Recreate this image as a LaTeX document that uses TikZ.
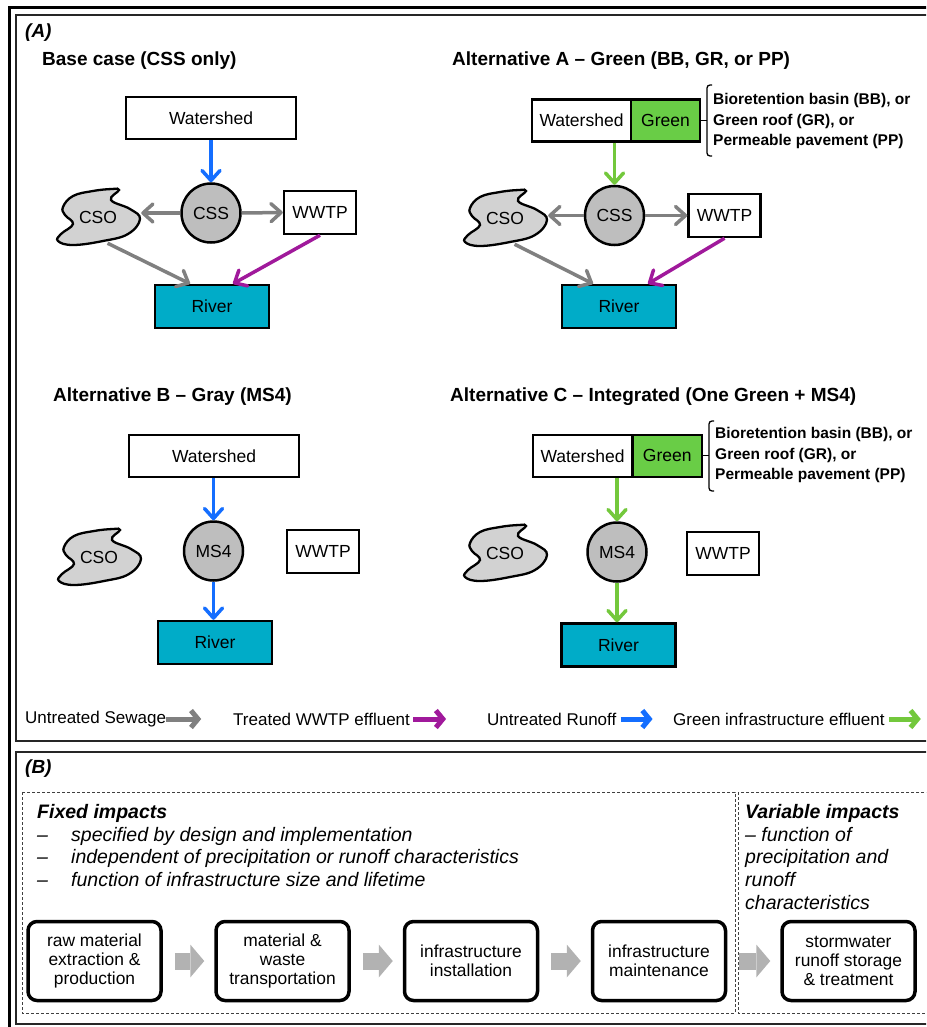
\documentclass[tikz,border=0pt]{standalone}
\usepackage{fontspec}
\setmainfont{Liberation Sans}
\usetikzlibrary{arrows.meta}

\definecolor{sewgray}{RGB}{128,128,128}
\definecolor{effpurple}{RGB}{160,25,155}
\definecolor{runblue}{RGB}{20,110,255}
\definecolor{gieffgreen}{RGB}{115,200,60}
\definecolor{greenfill}{RGB}{105,205,70}
\definecolor{riverfill}{RGB}{0,172,200}
\definecolor{sysfill}{RGB}{190,190,190}
\definecolor{csofill}{RGB}{210,210,210}
\definecolor{blockgray}{RGB}{178,178,178}

\newcommand{\lblfont}{\fontsize{17.5}{21}\selectfont}
\newcommand{\ttlfont}{\bfseries\fontsize{19}{23}\selectfont}
\newcommand{\brcfont}{\bfseries\fontsize{15.5}{20.7}\selectfont}
\newcommand{\legfont}{\fontsize{17}{20}\selectfont}
\newcommand{\impfont}{\itshape\fontsize{19.5}{22.7}\selectfont}
\newcommand{\stgfont}{\fontsize{17.4}{18.6}\selectfont}
\newcommand{\dashitem}{\makebox[34pt][l]{–}}

% the CSO outline, drawn round a centre point
\newcommand{\csoblob}[1]{%
  \draw[blob, shift={(#1)}] plot[smooth cycle, tension=0.7] coordinates
    {(-35,-10) (-25,-21) (-5,-26) (14,-28) (21,-27) (13,-17) (32,-8)
     (42,2) (30,17) (5,24) (-25,28) (-40,24) (-37,17) (-25,7) (-33,-2)};}

\tikzset{
  box/.style={draw, line width=2.5pt, inner sep=0pt, font=\lblfont},
  wsbox/.style={box, minimum width=170pt, minimum height=42pt},
  halfws/.style={box, minimum width=99pt, minimum height=42pt},
  greenbox/.style={box, fill=greenfill, minimum width=69pt, minimum height=42pt},
  plantbox/.style={box, minimum width=72pt, minimum height=43pt},
  riverbox/.style={box, fill=riverfill, minimum width=114pt, minimum height=43pt},
  sysnode/.style={circle, draw, line width=2.5pt, fill=sysfill, minimum size=59pt, inner sep=0pt, font=\lblfont},
  csonode/.style={inner sep=0pt, minimum width=86pt, minimum height=52pt, font=\lblfont},
  blob/.style={draw, line width=2.3pt, fill=csofill},
  flow/.style={line width=3.5pt, -{Straight Barb[length=10pt,width=18pt,round]}},
  sewage/.style={flow, draw=sewgray},
  effluent/.style={flow, draw=effpurple},
  runoff/.style={flow, draw=runblue},
  gieff/.style={flow, draw=gieffgreen},
  ttl/.style={anchor=west, font=\ttlfont, inner sep=0pt},
  brctxt/.style={anchor=west, align=left, font=\brcfont, inner sep=0pt},
  bracket/.style={line width=1.3pt, rounded corners=3pt},
  legtxt/.style={anchor=west, font=\legfont, inner sep=0pt},
  legarr/.style={line width=5pt, -{Straight Barb[length=7pt,width=17pt]}},
  stage/.style={draw, line width=3.5pt, rounded corners=9pt, minimum width=133pt, minimum height=79pt,
    align=center, font=\stgfont, inner sep=0pt},
  blockarr/.style={draw=blockgray, line width=17pt, -{Triangle[length=14pt,width=33pt,line width=0pt]}},
  impbox/.style={draw=black!75, line width=1pt, dash pattern=on 3pt off 2pt},
}

\begin{document}
\begin{tikzpicture}[x=1pt, y=-1pt]
    \useasboundingbox (0,0) rectangle (926,1027);
    \clip (0,0) rectangle (926,1027);

    % frames
    \draw[line width=3pt] (9,1040) -- (9,7.5) -- (940,7.5);
    \draw[line width=1.5pt, draw=black!85] (16,15) rectangle (940,741);
    \draw[line width=1.5pt, draw=black!85] (16,752) rectangle (940,1024);

    % (A)
    \node[anchor=west, font=\bfseries\itshape\fontsize{19}{23}\selectfont, inner sep=0pt] (labA) at (25,33) {(A)};

    % base case
    \node[ttl] (ttlBase) at (42,61) {Base case (CSS only)};
    \node[wsbox] (wsBase) at (211,118) {Watershed};
    \node[sysnode] (cssBase) at (211,213) {CSS};
    \csoblob{98,217}
    \node[csonode] (csoBase) at (98,217) {CSO};
    \node[plantbox] (wwtpBase) at (320,212.5) {WWTP};
    \node[riverbox] (riverBase) at (212,306.5) {River};
    \draw[runoff] (wsBase) -- (cssBase);
    \draw[sewage] (cssBase.west) -- (cssBase.west -| csoBase.east);
    \draw[sewage] (cssBase.east) -- (wwtpBase.west);
    \draw[sewage] (csoBase.-70) -- ([xshift=-22pt]riverBase.north);
    \draw[effluent] (wwtpBase.south) -- ([xshift=21pt]riverBase.north);

    % alternative A
    \node[ttl] (ttlA) at (452,61) {Alternative A – Green (BB, GR, or PP)};
    \node[halfws] (wsA) at (581.5,120.5) {Watershed};
    \node[greenbox] (grA) at (665.5,120.5) {Green};
    \draw[bracket] (712,85) -| (707,156) -- (712,156);
    \draw[bracket] (grA.east) -- (707,120.5);
    \node[brctxt] (giA) at (713,121) {Bioretention basin (BB), or\\Green roof (GR), or\\Permeable pavement (PP)};
    \node[sysnode] (cssA) at (614.5,215.5) {CSS};
    \csoblob{505,218}
    \node[csonode] (csoA) at (505,218) {CSO};
    \node[plantbox] (wwtpA) at (724.5,215.5) {WWTP};
    \node[riverbox] (riverA) at (619,306.5) {River};
    \draw[gieff] (cssA.north |- wsA.south) -- (cssA.north);
    \draw[sewage] (cssA.west) -- (cssA.west -| csoA.east);
    \draw[sewage] (cssA.east) -- (wwtpA.west);
    \draw[sewage] (csoA.-70) -- ([xshift=-26pt]riverA.north);
    \draw[effluent] (wwtpA.south) -- ([xshift=29pt]riverA.north);

    % alternative B
    \node[ttl] (ttlB) at (53,397) {Alternative B – Gray (MS4)};
    \node[wsbox] (wsB) at (214,456) {Watershed};
    \node[sysnode] (ms4B) at (213.5,551) {MS4};
    \csoblob{99,557}
    \node[csonode] (csoB) at (99,557) {CSO};
    \node[plantbox] (wwtpB) at (323,551.5) {WWTP};
    \node[riverbox] (riverB) at (215,642.5) {River};
    \draw[runoff] (ms4B.north |- wsB.south) -- (ms4B.north);
    \draw[runoff] (ms4B.south) -- (ms4B.south |- riverB.north);

    % alternative C
    \node[ttl] (ttlC) at (450,397) {Alternative C – Integrated (One Green + MS4)};
    \node[halfws] (wsC) at (582.5,455.8) {Watershed};
    \node[greenbox] (grC) at (667.3,455.8) {Green};
    \draw[bracket] (714,421) -| (709,491) -- (714,491);
    \draw[bracket] (grC.east) -- (709,455.8);
    \node[brctxt] (giC) at (715,455) {Bioretention basin (BB), or\\Green roof (GR), or\\Permeable pavement (PP)};
    \node[sysnode] (ms4C) at (617,552) {MS4};
    \csoblob{505,553}
    \node[csonode] (csoC) at (505,553) {CSO};
    \node[plantbox] (wwtpC) at (723,553.5) {WWTP};
    \node[riverbox] (riverC) at (618.5,645) {River};
    \draw[gieff] (ms4C.north |- wsC.south) -- (ms4C.north);
    \draw[gieff] (ms4C.south) -- (ms4C.south |- riverC.north);

    % legend
    \node[legtxt] (legSew) at (25,719) {Untreated Sewage};
    \draw[legarr, draw=sewgray] (legSew.east) -- ++(35,0);
    \node[legtxt] (legEff) at (233,719) {Treated WWTP effluent};
    \draw[legarr, draw=effpurple] ([xshift=3pt]legEff.east) -- ++(33,0);
    \node[legtxt] (legRun) at (487,719) {Untreated Runoff};
    \draw[legarr, draw=runblue] ([xshift=4pt]legRun.east) -- ++(32,0);
    \node[legtxt] (legGi) at (673,719) {Green infrastructure effluent};
    \draw[legarr, draw=gieffgreen] ([xshift=4pt]legGi.east) -- ++(32,0);

    % (B)
    \node[anchor=west, font=\bfseries\itshape\fontsize{19}{23}\selectfont, inner sep=0pt] (labB) at (25,769) {(B)};
    \draw[impbox] (22,792) rectangle (735,1013);
    \draw[impbox] (738,792) rectangle (940,1013);
    \node[anchor=north west, align=left, font=\impfont, inner sep=0pt] (fixTxt) at (37,804)
        {\textbf{Fixed impacts}\\\dashitem specified by design and implementation\\
         \dashitem independent of precipitation or runoff characteristics\\
         \dashitem function of infrastructure size and lifetime};
    \node[anchor=north west, align=left, font=\impfont, inner sep=0pt] (varTxt) at (745,804)
        {\textbf{Variable impacts}\\– function of\\precipitation and\\runoff\\characteristics};

    \node[stage] (stRaw) at (94.5,961) {raw material\\extraction \&\\production};
    \node[stage] (stTrans) at (282.5,961) {material \&\\waste\\transportation};
    \node[stage] (stInst) at (471,961) {infrastructure\\installation};
    \node[stage] (stMaint) at (659,961) {infrastructure\\maintenance};
    \node[stage] (stStorm) at (848.5,961) {stormwater\\runoff storage\\\& treatment};
    \foreach \a/\b in {stRaw/stTrans, stTrans/stInst, stInst/stMaint, stMaint/stStorm}
        \draw[blockarr] ([xshift=12pt]\a.east) -- ([xshift=-10pt]\b.west);
\end{tikzpicture}
\end{document}
